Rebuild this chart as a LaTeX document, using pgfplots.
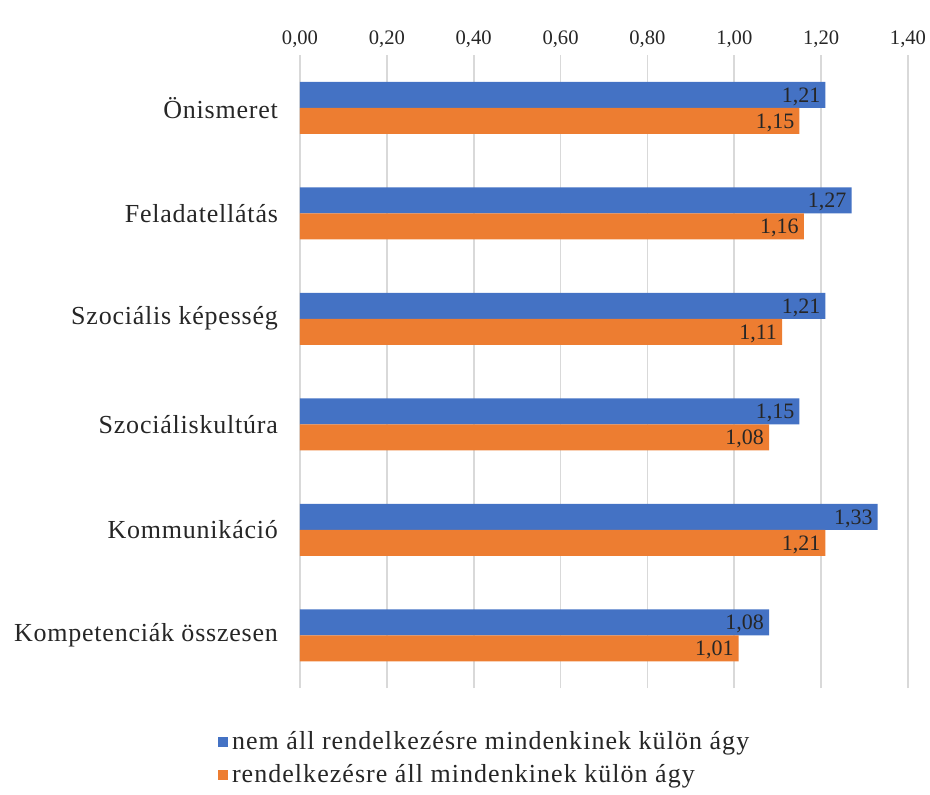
\documentclass[border=0pt]{standalone}
\usepackage{fontspec}
\setmainfont{Liberation Serif}
\newfontfamily\catfont[LetterSpace=3]{Liberation Serif}
\newfontfamily\legfont[LetterSpace=4]{Liberation Serif}
\usepackage{pgfplots}
\pgfplotsset{compat=1.18}
\definecolor{cblue}{RGB}{68,114,196}
\definecolor{corange}{RGB}{237,125,49}
\definecolor{cgrid}{RGB}{217,217,217}
\definecolor{ctext}{RGB}{38,38,38}

\begin{document}
\begin{tikzpicture}
\path[use as bounding box] (-150pt,-53pt) rectangle (315pt,344pt);
\begin{axis}[
    scale only axis, width=304pt, height=316.5pt,
    xbar, bar width=13pt,
    xmin=0, xmax=1.4,
    ymin=-0.5, ymax=5.5,
    ytick={0,1,2,3,4,5},
    yticklabels={Kompetenciák összesen, Kommunikáció, Szociáliskultúra,
                 Szociális képesség, Feladatellátás, Önismeret},
    xtick={0,0.2,0.4,0.6,0.8,1.0,1.2,1.4},
    xticklabel pos=upper,
    axis line style={draw=none},
    major tick length=0pt,
    xmajorgrids, grid style={cgrid, line width=0.8pt},
    /pgf/number format/.cd, use comma, fixed, fixed zerofill, precision=2,
        assume math mode=true,
    /pgfplots/.cd,
    xticklabel style={font=\fontsize{10.3}{12}\selectfont, text=ctext, yshift=0pt},
    yticklabel style={font=\catfont\fontsize{13}{15}\selectfont, text=ctext, xshift=-7.5pt},
    nodes near coords,
    point meta=x,
    every node near coord/.append style={anchor=east, font=\fontsize{11}{12}\selectfont,
        text=ctext, xshift=1pt, yshift=-1pt},
    legend style={at={(rel axis cs:-0.146,-0.055)}, anchor=north west, draw=none,
        font=\legfont\fontsize{13}{15}\selectfont, text=ctext, row sep=2pt,
        /tikz/every even column/.append style={column sep=2pt}},
    legend cell align=left,
    legend image code/.code={\fill[#1] (0pt,-2.6pt) rectangle (5.2pt,2.6pt);},
]
\addplot[fill=cblue, draw=none, bar shift=6.5pt] coordinates {
    (1.21,5) (1.27,4) (1.21,3) (1.15,2) (1.33,1) (1.08,0)};
\addlegendentry{nem áll rendelkezésre mindenkinek külön ágy}
\addplot[fill=corange, draw=none, bar shift=-6.5pt] coordinates {
    (1.15,5) (1.16,4) (1.11,3) (1.08,2) (1.21,1) (1.01,0)};
\addlegendentry{rendelkezésre áll mindenkinek külön ágy}
\end{axis}
\end{tikzpicture}
\end{document}
